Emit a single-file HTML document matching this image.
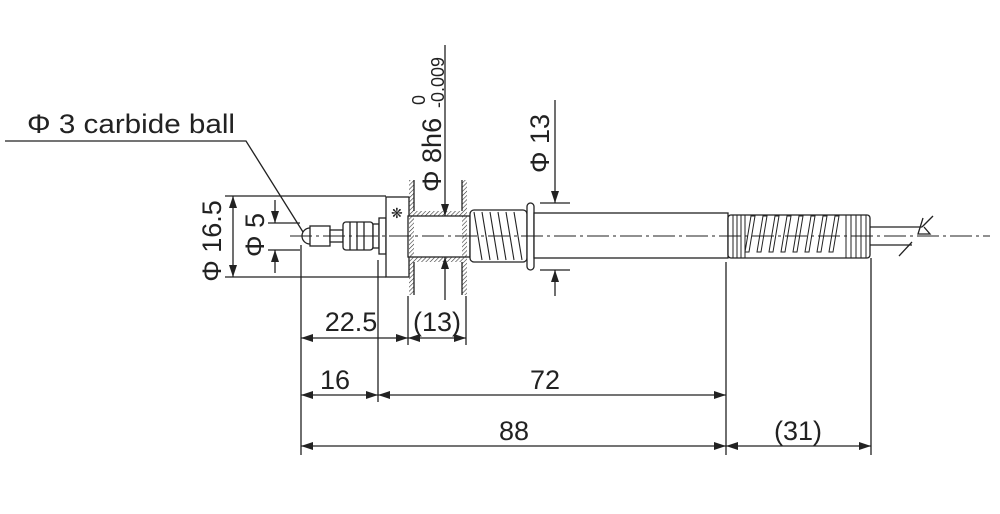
<!DOCTYPE html>
<html><head><meta charset="utf-8"><style>
html,body{margin:0;padding:0;background:#fff;}
svg{display:block;}
text{font-family:"Liberation Sans",sans-serif;fill:#222;}
</style></head><body>
<svg width="1000" height="514" viewBox="0 0 1000 514" xmlns="http://www.w3.org/2000/svg">
<defs>
<marker id="a" viewBox="0 0 12 8" refX="12" refY="4" markerWidth="12" markerHeight="8" markerUnits="userSpaceOnUse" orient="auto-start-reverse"><path d="M0,0 L12,4 L0,8 z" fill="#222"/></marker>
<pattern id="h" width="3" height="3" patternUnits="userSpaceOnUse" patternTransform="rotate(45)"><line x1="0" y1="0" x2="0" y2="3" stroke="#333" stroke-width="1.2"/></pattern>
</defs>
<g stroke="#222" stroke-width="1.3" fill="none">
<!-- leader -->
<polyline points="5,141 246,141 303,232"/>
<!-- tip -->
<path d="M310,228 A8,8 0 0 0 310,244" />
<rect x="310" y="226" width="20" height="20" fill="#fff"/>
<rect x="330" y="230" width="13" height="12" fill="#fff"/>
<rect x="343" y="222" width="30" height="28" rx="3" fill="#fff"/>
<line x1="350" y1="222" x2="350" y2="250"/><line x1="357" y1="222" x2="357" y2="250"/><line x1="364" y1="222" x2="364" y2="250"/>
<rect x="373" y="224" width="6" height="24" fill="#fff"/>
<rect x="379" y="218" width="7" height="36" fill="#fff"/>
<rect x="386" y="197" width="23" height="80" fill="#fff"/>
<text x="391" y="218" font-size="14" stroke="none">❋</text>
<!-- flange hatch -->
<rect x="408" y="216" width="62" height="41" fill="#fff"/>
<rect x="409" y="180" width="5" height="115" fill="url(#h)" stroke="none"/>
<rect x="462" y="180" width="5" height="115" fill="url(#h)" stroke="none"/>
<rect x="414" y="211" width="48" height="5" fill="url(#h)" stroke="none"/>
<rect x="414" y="257" width="48" height="5" fill="url(#h)" stroke="none"/>
<line x1="414" y1="180" x2="414" y2="211"/><line x1="414" y1="262" x2="414" y2="295"/>
<line x1="462" y1="180" x2="462" y2="211"/><line x1="462" y1="262" x2="462" y2="295"/>
<!-- front thread -->
<rect x="470" y="210" width="57" height="52" rx="4" fill="#fff"/>
<g stroke-width="1.1">
<line x1="474" y1="212" x2="482" y2="260"/><line x1="482" y1="212" x2="490" y2="260"/><line x1="490" y1="212" x2="498" y2="260"/><line x1="498" y1="212" x2="506" y2="260"/><line x1="506" y1="212" x2="514" y2="260"/><line x1="514" y1="212" x2="522" y2="260"/>
</g>
<rect x="527" y="203" width="7" height="67" rx="3.5" fill="#fff"/>
<!-- shaft -->
<rect x="534" y="213" width="194" height="45" fill="#fff"/>
<!-- rear -->
<rect x="728" y="215" width="142" height="43" rx="3" fill="#fff"/>
<g stroke-width="1">
<line x1="733" y1="215" x2="733" y2="258"/><line x1="737" y1="215" x2="737" y2="258"/><line x1="741" y1="215" x2="741" y2="258"/><line x1="745" y1="215" x2="745" y2="258"/>
<path d="M745,252 l6,-36 l4,0 l-6,36 z M757,252 l6,-36 l4,0 l-6,36 z M769,252 l6,-36 l4,0 l-6,36 z M781,252 l6,-36 l4,0 l-6,36 z M793,252 l6,-36 l4,0 l-6,36 z M805,252 l6,-36 l4,0 l-6,36 z M817,252 l6,-36 l4,0 l-6,36 z M829,252 l6,-36 l4,0 l-6,36 z"/>
<line x1="846" y1="215" x2="846" y2="258"/><line x1="851" y1="215" x2="851" y2="258"/><line x1="856" y1="215" x2="856" y2="258"/><line x1="861" y1="215" x2="861" y2="258"/><line x1="866" y1="215" x2="866" y2="258"/>
</g>
<line x1="870" y1="227" x2="922" y2="227"/><line x1="870" y1="245" x2="912" y2="245"/>
<polyline points="923,218 918,234 930,234 924,227"/><line x1="899" y1="256" x2="912" y2="242"/>
<line x1="922" y1="227" x2="933" y2="216"/>
<!-- centerline on top -->
<line x1="290" y1="236" x2="990" y2="236" stroke-dasharray="22,4,3,4" stroke-width="1"/>
<!-- phi 16.5 -->
<line x1="225" y1="196" x2="386" y2="196"/><line x1="225" y1="277" x2="386" y2="277"/>
<line x1="233" y1="196" x2="233" y2="277" marker-start="url(#a)" marker-end="url(#a)"/>
<!-- phi5 -->
<line x1="268" y1="223" x2="300" y2="223"/><line x1="268" y1="250" x2="300" y2="250"/>
<line x1="275" y1="200" x2="275" y2="223" marker-end="url(#a)"/><line x1="275" y1="273" x2="275" y2="250" marker-end="url(#a)"/>
<!-- phi8 -->
<line x1="445" y1="45" x2="445" y2="216" marker-end="url(#a)"/>
<line x1="445" y1="300" x2="445" y2="257" marker-end="url(#a)"/>
<!-- phi13 -->
<line x1="540" y1="203" x2="570" y2="203"/><line x1="540" y1="270" x2="570" y2="270"/>
<line x1="555" y1="100" x2="555" y2="203" marker-end="url(#a)"/>
<line x1="555" y1="296" x2="555" y2="270" marker-end="url(#a)"/>
<!-- extension lines -->
<line x1="301" y1="245" x2="301" y2="455"/>
<line x1="378" y1="260" x2="378" y2="402"/>
<line x1="408" y1="296" x2="408" y2="345"/>
<line x1="466" y1="296" x2="466" y2="345"/>
<line x1="726" y1="262" x2="726" y2="455"/>
<line x1="871" y1="258" x2="871" y2="455"/>
<!-- dims -->
<line x1="301" y1="338" x2="408" y2="338" marker-start="url(#a)" marker-end="url(#a)"/>
<line x1="408" y1="338" x2="466" y2="338" marker-start="url(#a)" marker-end="url(#a)"/>
<line x1="301" y1="395" x2="378" y2="395" marker-start="url(#a)" marker-end="url(#a)"/>
<line x1="378" y1="395" x2="726" y2="395" marker-start="url(#a)" marker-end="url(#a)"/>
<line x1="301" y1="446" x2="726" y2="446" marker-start="url(#a)" marker-end="url(#a)"/>
<line x1="726" y1="446" x2="871" y2="446" marker-start="url(#a)" marker-end="url(#a)"/>
</g>
<g font-size="27">
<text x="27" y="133" textLength="208" lengthAdjust="spacingAndGlyphs">Φ 3 carbide ball</text>
<text x="351" y="331" text-anchor="middle">22.5</text>
<text x="437" y="331" text-anchor="middle">(13)</text>
<text x="335" y="389" text-anchor="middle">16</text>
<text x="545" y="389" text-anchor="middle">72</text>
<text x="514" y="440" text-anchor="middle">88</text>
<text x="798" y="440" text-anchor="middle">(31)</text>
<text transform="translate(221,241) rotate(-90)" text-anchor="middle">Φ 16.5</text>
<text transform="translate(264,235) rotate(-90)" text-anchor="middle">Φ 5</text>
<text transform="translate(441,192) rotate(-90)">Φ 8h6</text>
<text transform="translate(549,173) rotate(-90)">Φ 13</text>
</g>
<text transform="translate(425,105) rotate(-90)" font-size="18">0</text>
<text transform="translate(444,108) rotate(-90)" font-size="18">-0.009</text>
</svg>
</body></html>
